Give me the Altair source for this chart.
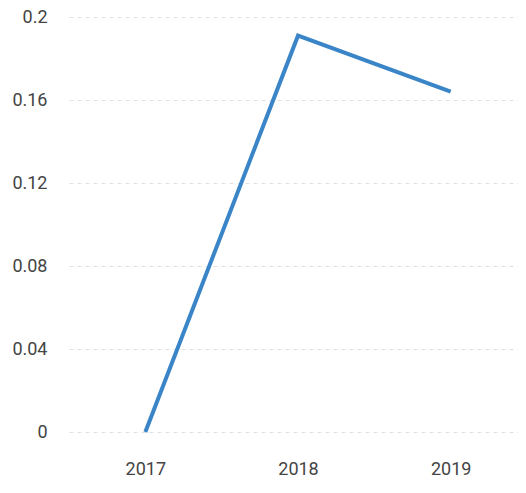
import altair as alt
import pandas as pd

years = ["2017", "2018", "2019"]
values = [0.0, 0.191, 0.164]

df = pd.DataFrame({"year": years, "value": values})

chart = alt.Chart(df).mark_line(color="#3a85c7", strokeWidth=4).encode(
    x=alt.X("year:O", title=None,
            scale=alt.Scale(type="point", padding=0.5),
            axis=alt.Axis(labelAngle=0, domain=False, ticks=False, grid=False,
                          labelPadding=37, labelFont="Roboto", labelFontSize=18,
                          labelColor="#444444", labelBaseline="middle")),
    y=alt.Y("value:Q", title=None,
            scale=alt.Scale(domain=[0, 0.2], nice=False),
            axis=alt.Axis(values=[0, 0.04, 0.08, 0.12, 0.16, 0.2], domain=False, ticks=False,
                          grid=True, gridColor="#e0e0e0", gridDash=[4, 4], gridWidth=1,
                          labelPadding=22, labelFont="Roboto", labelFontSize=18,
                          labelColor="#444444", format="~g")),
).properties(
    width=458, height=415,
    autosize=alt.AutoSizeParams(type="none"),
    padding={"left": 61, "top": 9, "right": -9, "bottom": 47},
).configure_view(stroke=None)

chart.save("out.html", embed_options={"renderer": "svg", "actions": False})
